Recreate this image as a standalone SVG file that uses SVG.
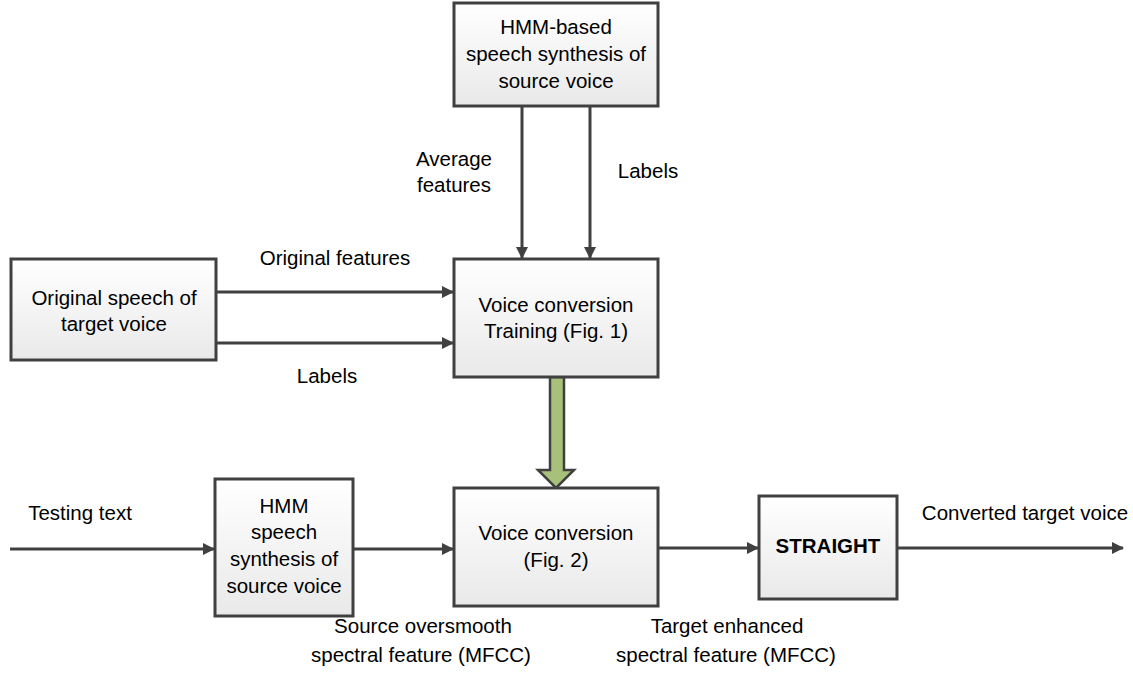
<svg xmlns="http://www.w3.org/2000/svg" width="1133" height="678" viewBox="0 0 1133 678">
<defs>
<linearGradient id="g" x1="0" y1="0" x2="0" y2="1"><stop offset="0" stop-color="#ffffff"/><stop offset="1" stop-color="#e9e9e9"/></linearGradient>
<marker id="ah" markerWidth="12" markerHeight="12" refX="11" refY="6" orient="auto" markerUnits="userSpaceOnUse"><path d="M0,0 L12,6 L0,12 z" fill="#404040"/></marker>
<style>
.box{fill:url(#g);stroke:#404040;stroke-width:3}
.c{stroke:#404040;stroke-width:3;fill:none;marker-end:url(#ah)}
text{font-family:"Liberation Sans",Arial,sans-serif;font-size:20.5px;fill:#000;text-anchor:middle}
.b{font-weight:bold}
</style>
</defs>
<rect width="1133" height="678" fill="#fff"/>
<g id="connectors">
<line class="c" x1="522" y1="106" x2="522" y2="258"/>
<line class="c" x1="590" y1="106" x2="590" y2="258"/>
<line class="c" x1="216" y1="292" x2="453" y2="292"/>
<line class="c" x1="216" y1="343" x2="453" y2="343"/>
<line class="c" x1="10" y1="549" x2="214" y2="549"/>
<line class="c" x1="353" y1="549" x2="453" y2="549"/>
<line class="c" x1="658" y1="548" x2="758" y2="548"/>
<line class="c" x1="897" y1="548" x2="1123" y2="548"/>
<path d="M550,377 L564,377 L564,470 L574,470 L556,488 L538,470 L550,470 z" fill="#a7c07a" stroke="#404040" stroke-width="2.5" stroke-linejoin="miter"/>
</g>
<g id="hmm-top"><rect class="box" x="454" y="3" width="204" height="103"/>
<text x="556" y="34">HMM-based</text><text x="556" y="61">speech synthesis of</text><text x="556" y="88">source voice</text></g>
<g id="orig-speech"><rect class="box" x="11" y="259" width="205" height="101"/>
<text x="114" y="305">Original speech of</text><text x="114" y="331">target voice</text></g>
<g id="vc-train"><rect class="box" x="454" y="259" width="204" height="118"/>
<text x="556" y="312">Voice conversion</text><text x="556" y="338">Training (Fig. 1)</text></g>
<g id="hmm-bottom"><rect class="box" x="215" y="479" width="138" height="137"/>
<text x="284" y="513">HMM</text><text x="284" y="539">speech</text><text x="284" y="566">synthesis of</text><text x="284" y="593">source voice</text></g>
<g id="vc"><rect class="box" x="454" y="488" width="204" height="118"/>
<text x="556" y="540">Voice conversion</text><text x="556" y="567">(Fig. 2)</text></g>
<g id="straight"><rect class="box" x="759" y="496" width="138" height="103"/>
<text class="b" x="828" y="553">STRAIGHT</text></g>
<g id="labels">
<text x="454" y="166">Average</text><text x="454" y="192">features</text>
<text x="648" y="178">Labels</text>
<text x="335" y="265">Original features</text>
<text x="327" y="383">Labels</text>
<text x="80" y="520">Testing text</text>
<text x="423" y="633">Source oversmooth</text><text x="421" y="662">spectral feature (MFCC)</text>
<text x="727" y="633">Target enhanced</text><text x="726" y="662">spectral feature (MFCC)</text>
<text x="1025" y="520">Converted target voice</text>
</g>
</svg>
